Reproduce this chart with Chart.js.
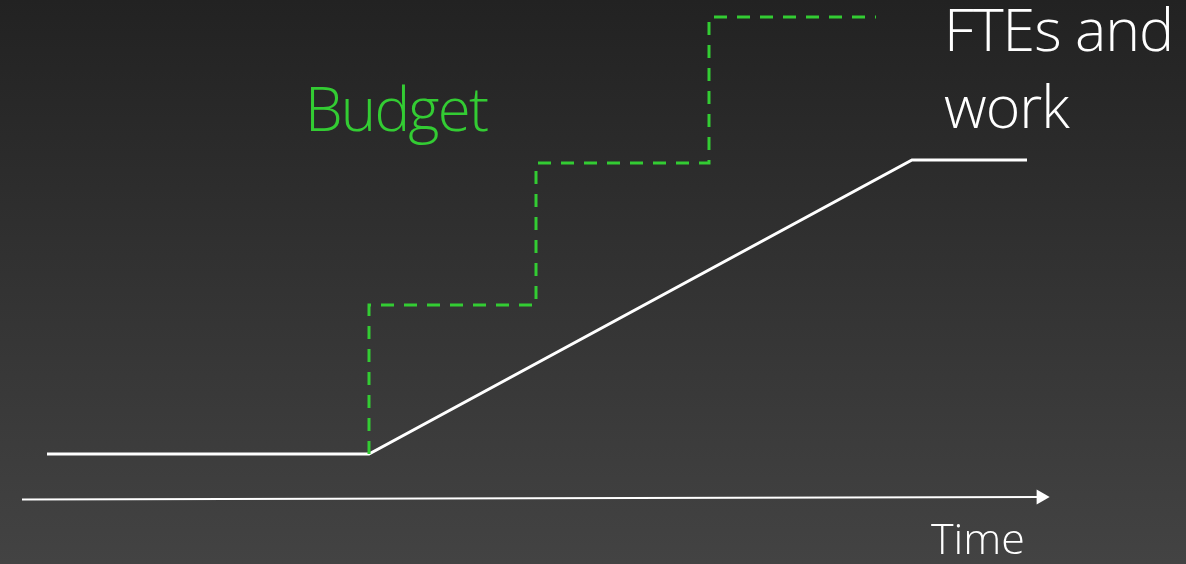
<!DOCTYPE html>
<html>
<head>
<meta charset="utf-8">
<script src="https://cdn.jsdelivr.net/npm/chart.js@4"></script>
<style>
  body { margin: 0; background: #222; }
  #wrap { position: relative; width: 1186px; height: 564px; overflow: hidden; }
  .lbl { position: absolute; font-family: "Open Sans", "Segoe UI", sans-serif; font-weight: 300; line-height: 1; white-space: nowrap; }
</style>
</head>
<body>
<div id="wrap">
  <canvas id="chart1"></canvas>
  <div class="lbl" id="lblBudget" style="left:305px; top:78px; font-size:60px; letter-spacing:-1.8px; color:#33cc33;">Budget</div>
  <div class="lbl" id="lblFte" style="left:944px; top:-1px; font-size:59px; letter-spacing:-1px; color:#ffffff;">FTEs and<br><span style="display:inline-block;margin-top:18px">work</span></div>
  <div class="lbl" id="lblTime" style="left:931px; top:516px; font-size:43px; color:#ffffff;">Time</div>
</div>
<script>
// time (x) and amount (y) values
var workX = [0, 32.2, 86.5, 98];
var workY = [4.4, 4.4, 33.8, 33.8];

var budgetX = [32.2, 48.9, 66.2, 82.9];
var budgetY = [4.4, 19.3, 33.5, 48.1];

var axisX = [-2.5, 99.4];
var axisY = [-0.15, 0.1];

function puntos(xs, ys){
	var p = [];
	for (var i = 0; i < xs.length; i++) {
		p.push({x: xs[i], y: ys[i]});
	}
	return p;
}

var fondo = {
	id: 'fondo',
	beforeDraw: function(chart){
		var ctx = chart.ctx;
		var g = ctx.createLinearGradient(0, 0, 0, chart.height);
		g.addColorStop(0, '#222222');
		g.addColorStop(1, '#434343');
		ctx.save();
		ctx.fillStyle = g;
		ctx.fillRect(0, 0, chart.width, chart.height);
		ctx.restore();
	}
};

var datos = {
	type: 'line',
	data: {
		datasets: [
			{
				data: puntos(axisX, axisY),
				borderColor: '#ffffff',
				backgroundColor: '#ffffff',
				borderWidth: 2,
				pointRadius: [0, 8.7],
				pointHoverRadius: 0,
				pointStyle: 'triangle',
				rotation: 90,
				pointBorderWidth: 0,
				clip: false
			},
			{
				data: puntos(budgetX, budgetY),
				stepped: 'after',
				borderColor: '#33cc33',
				borderWidth: 3,
				borderDash: [13, 10],
				pointRadius: 0,
				clip: false
			},
			{
				data: puntos(workX, workY),
				borderColor: '#ffffff',
				borderWidth: 3,
				pointRadius: 0,
				tension: 0,
				clip: false
			}
		]
	},
	options: {
		responsive: true,
		maintainAspectRatio: false,
		animation: false,
		layout: { padding: 0, autoPadding: false },
		plugins: { legend: { display: false }, tooltip: { enabled: false } },
		scales: {
			x: { type: 'linear', min: -4.7, max: 113.9, display: false },
			y: { type: 'linear', min: -6.6, max: 49.8, display: false }
		}
	},
	plugins: [fondo]
};

var canvas = document.getElementById('chart1').getContext('2d');
window.grafico = new Chart(canvas, datos);
</script>
</body>
</html>
